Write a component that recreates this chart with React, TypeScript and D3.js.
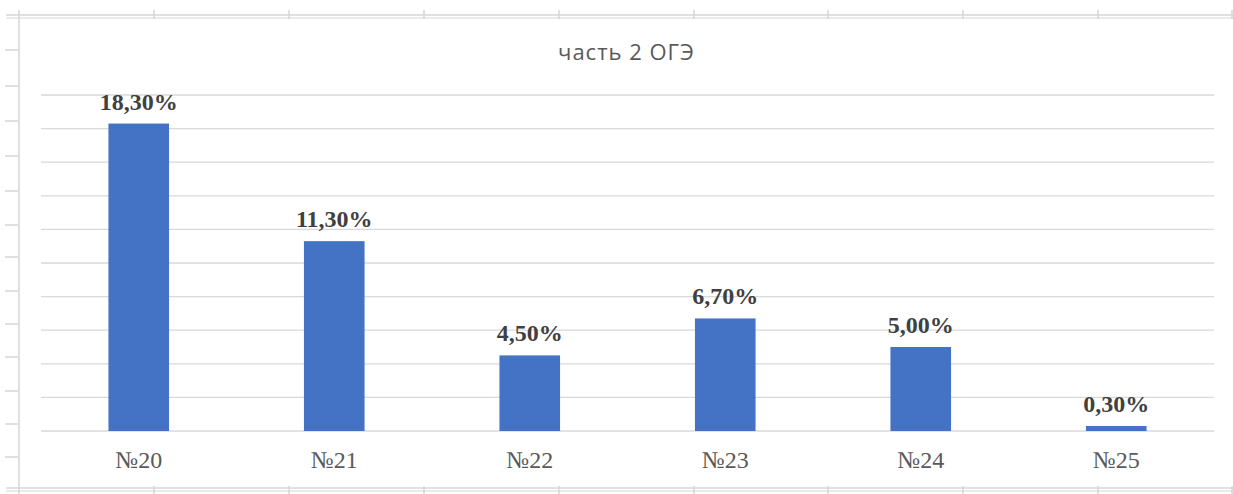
import React from "react";
import * as d3 from "d3";

const categories = ["№20", "№21", "№22", "№23", "№24", "№25"];
const values = [18.3, 11.3, 4.5, 6.7, 5.0, 0.3];
const labels = ["18,30%", "11,30%", "4,50%", "6,70%", "5,00%", "0,30%"];
const gridTicks = [0, 2, 4, 6, 8, 10, 12, 14, 16, 18, 20];
const title = "часть 2 ОГЭ";
const sheetCols = [154, 289, 424, 559, 694, 828, 963, 1098, 1232];
const sheetRows = [50, 86, 121, 156, 191, 225, 257, 291, 324, 357, 391, 424, 457];

const W = 1233;
const H = 494;
const plot = { left: 41, right: 1214, top: 95, bottom: 431 };

export default function App() {
  const x = d3
    .scaleBand<string>()
    .domain(categories)
    .range([plot.left, plot.right])
    .paddingInner(0.69)
    .paddingOuter(0.345);
  const y = d3.scaleLinear().domain([0, 20]).range([plot.bottom, plot.top]);
  const sheet = "#d6d6d6";
  return (
    <svg
      width={W}
      height={H}
      style={{ position: "absolute", left: 0, top: 0, display: "block", background: "#fff" }}
    >
      {/* spreadsheet background lines */}
      {sheetRows.map((r) => (
        <line key={"r" + r} x1={5} x2={18} y1={r} y2={r} stroke={sheet} strokeWidth={1.5} />
      ))}
      {sheetCols.map((c) => (
        <g key={"c" + c}>
          <line x1={c} x2={c} y1={10} y2={19} stroke={sheet} strokeWidth={1.5} />
          <line x1={c} x2={c} y1={486} y2={494} stroke={sheet} strokeWidth={1.5} />
        </g>
      ))}
      <line x1={19} x2={19} y1={10} y2={494} stroke={sheet} strokeWidth={1.5} />
      <line x1={6} x2={W} y1={15} y2={15} stroke={sheet} strokeWidth={1.5} />
      <line x1={6} x2={W} y1={18} y2={18} stroke={sheet} strokeWidth={1} />
      <line x1={6} x2={W} y1={488} y2={488} stroke={sheet} strokeWidth={1.5} />
      <line x1={6} x2={W} y1={491} y2={491} stroke={sheet} strokeWidth={1} />

      {/* gridlines */}
      {gridTicks.map((t) => (
        <line
          key={t}
          x1={plot.left}
          x2={plot.right}
          y1={y(t)}
          y2={y(t)}
          stroke="#d9d9d9"
          strokeWidth={1.3}
        />
      ))}

      {/* title */}
      <text
        x={(plot.left + plot.right) / 2 - 1}
        y={60}
        textAnchor="middle"
        fontFamily="'Open Sans', sans-serif"
        fontSize={22}
        letterSpacing={1}
        fill="#595959"
      >
        {title}
      </text>

      {/* bars */}
      {categories.map((c, i) => (
        <rect
          key={c}
          x={x(c)}
          y={y(values[i])}
          width={x.bandwidth()}
          height={y(0) - y(values[i])}
          fill="#4472C4"
        />
      ))}

      {/* data labels */}
      {categories.map((c, i) => (
        <text
          key={"l" + c}
          x={(x(c) as number) + x.bandwidth() / 2}
          y={y(values[i]) - 14}
          textAnchor="middle"
          fontFamily="'Liberation Serif', serif"
          fontWeight="bold"
          fontSize={24}
          fill="#404040"
        >
          {labels[i]}
        </text>
      ))}

      {/* category labels */}
      {categories.map((c) => (
        <text
          key={"x" + c}
          x={(x(c) as number) + x.bandwidth() / 2}
          y={468}
          textAnchor="middle"
          fontFamily="'Liberation Serif', serif"
          fontSize={24}
          fill="#595959"
        >
          {c}
        </text>
      ))}
    </svg>
  );
}
